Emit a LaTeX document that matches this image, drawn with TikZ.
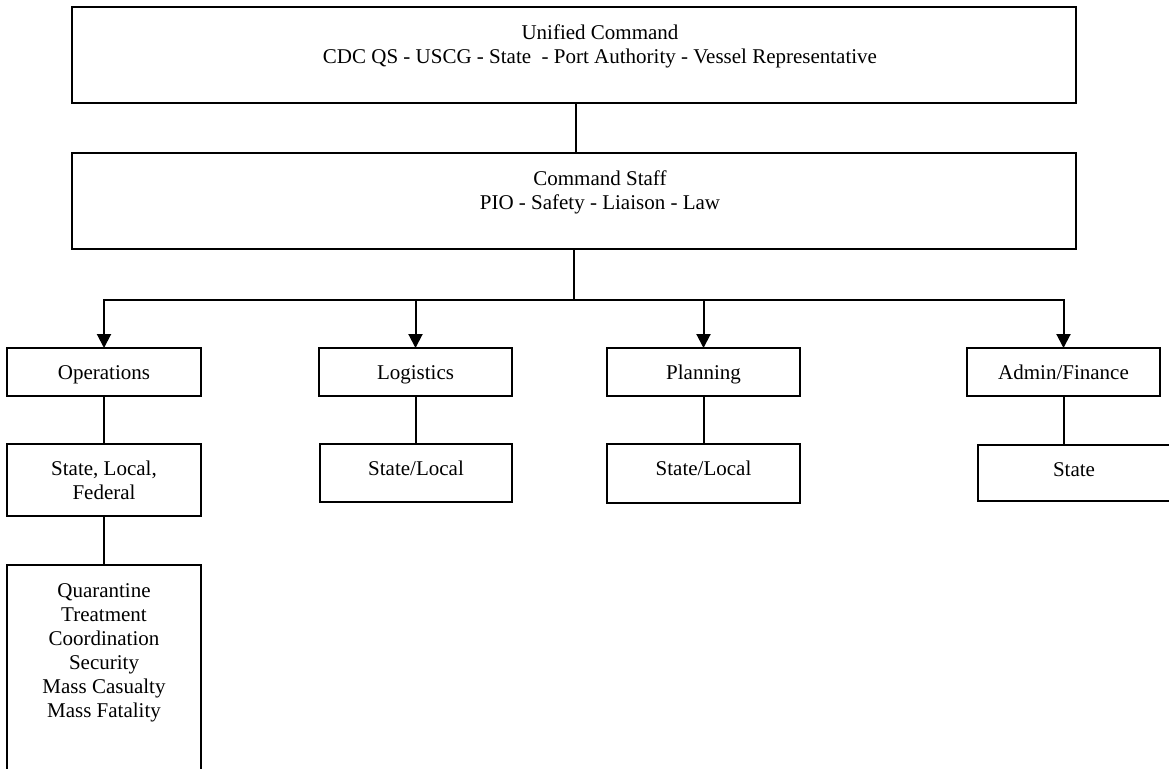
\documentclass[tikz,border=0pt]{standalone}
\usepackage{fontspec}
\setmainfont{Liberation Serif}
\usetikzlibrary{arrows.meta}
\newlength{\pxu}\setlength{\pxu}{0.5pt}
\newcommand{\bxt}[4]{\parbox[c][#2\pxu][t]{#1\pxu}{\centering\vspace*{#3\pxu}\strut #4}}
\newcommand{\bxo}[5]{\parbox[c][#2\pxu][t]{#1\pxu}{\centering\leftskip=#4\pxu plus 1fil\relax\vspace*{#3\pxu}\strut #5}}
\begin{document}
\begin{tikzpicture}[x=0.5pt,y=-0.5pt,
  orgbox/.style={draw=black, line width=1pt, inner sep=0pt, outer sep=0pt, font=\fontsize{10.5pt}{12pt}\selectfont},
  link/.style={draw=black, line width=1pt},
  arr/.style={link, -{Triangle[length=7pt,width=7pt]}}]
\useasboundingbox (0,0) rectangle (1169,768);
\clip (0,0) rectangle (1169,768);
% top levels
\node[orgbox] (uc) at (574,55) {\bxo{1004}{96}{15.2}{52}{Unified Command\\CDC QS - USCG - State\ \ - Port Authority - Vessel Representative}};
\node[orgbox] (cs) at (574,201) {\bxo{1004}{96}{15.2}{52}{Command Staff\\PIO - Safety - Liaison - Law}};
% sections
\node[orgbox] (ops) at (104,372) {\bxt{194}{48}{14.7}{Operations}};
\node[orgbox] (log) at (415.5,372) {\bxt{193}{48}{14.2}{Logistics}};
\node[orgbox] (plan) at (703.5,372) {\bxt{193}{48}{14.2}{Planning}};
\node[orgbox] (adm) at (1063.5,372) {\bxt{193}{48}{14.2}{Admin/Finance}};
% sub boxes
\node[orgbox] (slf) at (104,480) {\bxt{194}{72}{14.2}{State, Local,\\Federal}};
\node[orgbox] (quar) at (104,682.5) {\bxt{194}{235}{15.2}{Quarantine\\Treatment\\Coordination\\Security\\Mass Casualty\\Mass Fatality}};
\node[orgbox] (lsl) at (416,473) {\bxt{192}{58}{14.2}{State/Local}};
\node[orgbox] (psl) at (703.5,473.5) {\bxt{193}{59}{14.2}{State/Local}};
\node[orgbox] (st) at (1074,473) {\bxt{192}{56}{14.2}{State}};
% connectors
\coordinate (busy) at (0,300);
\coordinate (bus) at (cs.south |- busy);
\draw[link] ([xshift=1pt]uc.south) -- ([xshift=1pt]uc.south |- cs.north);
\draw[link] (cs.south) -- (bus);
\draw[arr] (bus) -| (ops.north);
\draw[arr] (bus) -| (log.north);
\draw[arr] (bus) -| (plan.north);
\draw[arr] (bus) -| (adm.north);
\draw[link] (ops.south) -- (slf.north);
\draw[link] (slf.south) -- (quar.north);
\draw[link] (log.south) -- (log.south |- lsl.north);
\draw[link] (plan.south) -- (plan.south |- psl.north);
\draw[link] (adm.south) -- (adm.south |- st.north);
\end{tikzpicture}
\end{document}
